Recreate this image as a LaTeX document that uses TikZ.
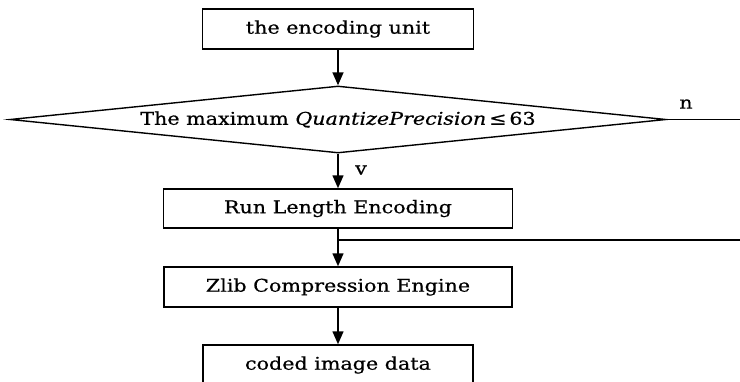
\documentclass[tikz,border=0pt]{standalone}
\usepackage{fontspec}
\setmainfont[FakeStretch=1.18,FakeBold=0.6]{DejaVu Serif}
\usetikzlibrary{shapes.geometric,arrows.meta}
\begin{document}
\begin{tikzpicture}[x=1pt,y=-1pt,
  font=\fontsize{17.5}{20}\selectfont,
  line width=1.5pt,
  procbox/.style={draw, rectangle, inner sep=0pt, line width=1.5pt},
  arr/.style={-{Triangle[length=13pt,width=11pt]}, line width=1.5pt}]
\useasboundingbox (0,0) rectangle (740,381);
\clip (0,0) rectangle (740,381);
\fill[white] (0,0) rectangle (740,381);
\node[procbox, minimum width=271pt, minimum height=40pt] (b1) at (338,29) {the encoding unit};
\node[diamond, draw, line width=1.4pt, minimum width=656pt, minimum height=67pt, inner sep=0pt] (d) at (338,119.5) {};
\node (dt) at (d.center) {The maximum \textit{QuantizePrecision}\,≤\,63};
\node[procbox, minimum width=349pt, minimum height=39pt] (b2) at (338,208.5) {Run Length Encoding};
\node[procbox, minimum width=348pt, minimum height=40pt] (b3) at (338,287) {Zlib Compression Engine};
\node[procbox, minimum width=270pt, minimum height=40pt] (b4) at (338,365) {coded image data};
\coordinate (nend) at (740,119.5);
\coordinate (j) at (338,240);
\coordinate (jend) at (740,240);
\draw[arr] (b1) -- (d.north);
\draw[arr] (d.south) -- (b2.north);
\draw[arr] (b2.south) -- (b3.north);
\draw[arr] (b3.south) -- (b4.north);
\draw (d.east) -- (nend);
\draw (j) -- (jend);
\node (nl) at (686,104) {n};
\node (vl) at (361,170) {v};
\end{tikzpicture}
\end{document}
